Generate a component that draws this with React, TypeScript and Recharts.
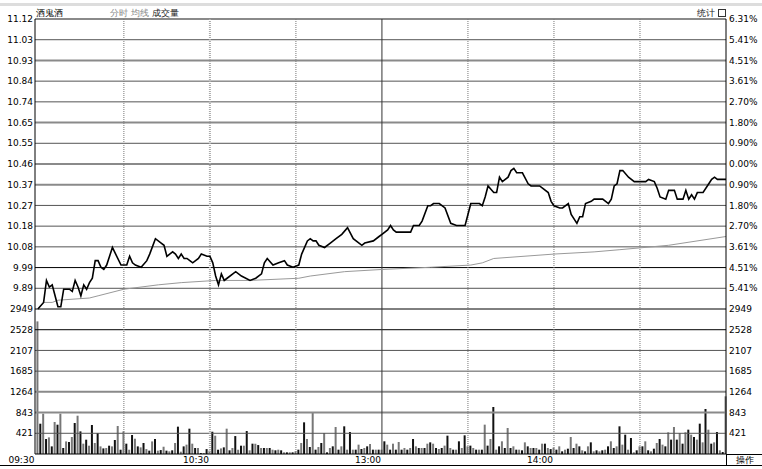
import { ComposedChart, Bar, Line, XAxis, YAxis, ReferenceLine, Cell } from 'recharts';

const PREV_CLOSE = 10.46;
const PRICE_LABELS = ['11.12', '11.03', '10.93', '10.84', '10.74', '10.65', '10.55', '10.46', '10.37', '10.27', '10.18', '10.08', '9.99', '9.89'];
const PCT_LABELS = ['6.31%', '5.41%', '4.51%', '3.61%', '2.70%', '1.80%', '0.90%', '0.00%', '0.90%', '1.80%', '2.70%', '3.61%', '4.51%', '5.41%'];
const VOL_LABELS = ['2949', '2528', '2107', '1685', '1264', '843', '421'];
const TIME_TICKS = [0, 60, 120, 180];
const TIME_LABELS = ['09:30', '10:30', '13:00', '14:00'];
const GUIDE_MINUTES = [30, 60, 90, 120, 150, 180, 210];

// minute index (0 = 09:30, 240 = 15:00) and price
const PRICE_MIN = [
  0, 2, 3, 4, 5, 6, 7, 8, 9, 11, 12, 13, 14, 15, 16, 17, 18, 19, 20, 21, 22, 23, 24, 26, 29, 31, 32, 33, 34, 36,
  38, 39, 41, 43, 44, 45, 47, 48, 49, 50, 51, 52, 53, 54, 56, 57, 59, 60, 61, 62, 63, 64, 65, 66, 68, 69, 71, 74, 76, 78,
  79, 80, 82, 84, 86, 87, 89, 91, 92, 94, 95, 96, 97, 98, 100, 102, 104, 106, 108, 110, 113, 114, 117, 119, 120, 122, 123, 124, 125, 126,
  128, 130, 131, 133, 134, 136, 137, 138, 140, 142, 144, 146, 148, 149, 150, 151, 154, 155, 156, 157, 159, 160, 161, 162, 164, 165, 166, 167, 169, 171,
  172, 174, 175, 176, 178, 179, 180, 182, 183, 185, 186, 188, 189, 190, 191, 193, 194, 196, 197, 199, 200, 201, 202, 203, 204, 206, 208, 210, 212, 213,
  215, 216, 217, 219, 220, 222, 223, 225, 226, 227, 228, 229, 230, 231, 232, 234, 235, 236, 237, 240,
];
const PRICE_VAL = [
  9.8, 9.83, 9.93, 9.9, 9.91, 9.86, 9.81, 9.81, 9.89, 9.89, 9.88, 9.93, 9.9, 9.86, 9.91, 9.89, 9.92, 9.94, 10.02, 10.02, 9.99, 9.98, 10.0, 10.08, 10.0, 10.0, 10.04, 10.01, 10.0, 9.99,
  10.02, 10.05, 10.12, 10.1, 10.09, 10.04, 10.06, 10.05, 10.03, 10.05, 10.03, 10.03, 10.02, 10.01, 10.03, 10.05, 10.04, 10.04, 10.01, 9.95, 9.91, 9.96, 9.93, 9.94, 9.96, 9.97, 9.95, 9.93, 9.94, 9.96,
  10.01, 10.03, 10.0, 10.01, 10.02, 10.0, 9.99, 10.0, 10.05, 10.11, 10.12, 10.11, 10.11, 10.09, 10.08, 10.1, 10.12, 10.14, 10.17, 10.12, 10.09, 10.1, 10.11, 10.13, 10.14, 10.16, 10.18, 10.16, 10.15, 10.15,
  10.15, 10.15, 10.18, 10.18, 10.2, 10.27, 10.27, 10.28, 10.28, 10.26, 10.19, 10.18, 10.18, 10.18, 10.23, 10.28, 10.28, 10.27, 10.31, 10.36, 10.33, 10.33, 10.4, 10.38, 10.4, 10.43, 10.44, 10.42, 10.42, 10.37,
  10.36, 10.36, 10.36, 10.35, 10.33, 10.29, 10.27, 10.26, 10.26, 10.28, 10.23, 10.19, 10.22, 10.22, 10.28, 10.29, 10.3, 10.3, 10.3, 10.28, 10.3, 10.36, 10.37, 10.43, 10.43, 10.4, 10.38, 10.38, 10.38, 10.39,
  10.38, 10.35, 10.31, 10.3, 10.34, 10.34, 10.3, 10.3, 10.34, 10.3, 10.32, 10.3, 10.33, 10.33, 10.33, 10.37, 10.39, 10.4, 10.39, 10.39,
];

const AVG_MIN = [0, 2, 5, 7, 18, 21, 30, 42, 50, 62, 74, 91, 95, 107, 120, 137, 151, 155, 159, 180, 194, 203, 220, 240];
const AVG_VAL = [9.8, 9.83, 9.83, 9.84, 9.85, 9.86, 9.89, 9.91, 9.92, 9.93, 9.93, 9.94, 9.95, 9.97, 9.98, 9.99, 10.0, 10.01, 10.03, 10.05, 10.06, 10.07, 10.09, 10.13];

// one bar per minute, 0..240
const VOLUME = [
  2697, 616, 820, 305, 338, 155, 651, 596, 820, 122, 256, 244, 346, 630, 779, 460, 210, 291, 169, 590,
  224, 427, 155, 114, 122, 169, 155, 285, 570, 87, 460, 210, 87, 386, 311, 155, 135, 224, 100, 68,
  256, 305, 68, 80, 148, 68, 54, 75, 224, 556, 47, 155, 190, 515, 210, 122, 122, 20, 20, 100,
  68, 453, 372, 87, 114, 135, 515, 75, 122, 365, 87, 169, 169, 467, 75, 210, 210, 182, 122, 122,
  122, 122, 88, 75, 88, 75, 34, 34, 34, 34, 54, 88, 224, 644, 305, 142, 834, 88, 142, 224,
  427, 34, 122, 156, 549, 88, 156, 563, 88, 447, 88, 88, 190, 102, 122, 156, 203, 88, 88, 88,
  88, 258, 190, 88, 210, 88, 244, 88, 122, 88, 122, 305, 156, 122, 122, 122, 210, 237, 210, 122,
  102, 122, 170, 373, 122, 88, 88, 258, 122, 380, 156, 170, 122, 88, 88, 88, 597, 170, 305, 956,
  88, 156, 258, 122, 529, 122, 156, 88, 88, 75, 237, 156, 122, 122, 122, 88, 210, 210, 122, 100,
  130, 88, 156, 54, 88, 108, 346, 122, 210, 156, 75, 54, 156, 237, 54, 75, 54, 75, 88, 156,
  258, 122, 156, 563, 190, 393, 88, 325, 34, 75, 156, 156, 258, 75, 54, 108, 224, 305, 190, 156,
  441, 292, 549, 292, 427, 210, 441, 495, 393, 346, 292, 617, 237, 915, 495, 210, 237, 447, 75, 40,
  1173,
];

const FONT = "'DejaVu Sans', sans-serif";
const ROWS = PRICE_LABELS.length + VOL_LABELS.length; // 21 grid rows
const PRICE_TOP = Number(PRICE_LABELS[0]);
const PRICE_LOW = 2 * PREV_CLOSE - PRICE_TOP;
const PRICE_STEP = (PRICE_TOP - PRICE_LOW) / PRICE_LABELS.length;
const PRICE_BOTTOM = PRICE_LOW - VOL_LABELS.length * PRICE_STEP;
const PRICE_DOMAIN: [number, number] = [PRICE_BOTTOM, PRICE_TOP];
const VOL_DOMAIN: [number, number] = [0, (Number(VOL_LABELS[0]) * ROWS) / VOL_LABELS.length];

const THICK_ROWS = new Set([21, 19, 16, 14, 13, 3, 2]);
const DARK_ROWS = new Set([9, 7, 6]);

const slot = (m: number) => m + 1;
const volumeRows = VOLUME.map((v, m) => ({ x: slot(m), vol: v }));
const priceRows = PRICE_MIN.map((m, i) => ({ x: slot(m), p: PRICE_VAL[i] }));
const avgRows = AVG_MIN.map((m, i) => ({ x: slot(m), p: AVG_VAL[i] }));
const gridRows = Array.from({ length: ROWS }, (_, i) => i + 1);
// grid rows expressed on the price scale
const rowPrice = (r: number) => PRICE_BOTTOM + r * PRICE_STEP;
const rowTicks = gridRows.map(rowPrice);
const rowOf = (v: number) => Math.round((v - PRICE_BOTTOM) / PRICE_STEP);

const leftLabel = (v: number) => {
  const r = rowOf(v);
  return r > VOL_LABELS.length ? PRICE_LABELS[ROWS - r] : VOL_LABELS[VOL_LABELS.length - r];
};
const rightLabel = (v: number) => {
  const r = rowOf(v);
  return r > VOL_LABELS.length ? PCT_LABELS[ROWS - r] : VOL_LABELS[VOL_LABELS.length - r];
};

const TimeTick = (props: any) => {
  const { x, y, payload } = props;
  const i = TIME_TICKS.map(slot).indexOf(payload.value);
  return (
    <text x={i === 0 ? x - 3.5 : x - 1} y={y + 9} textAnchor="end" fontSize={9} fontFamily={FONT} fill="#000">
      {TIME_LABELS[i]}
    </text>
  );
};

const tickStyle = { fontSize: 9, fontFamily: FONT, fill: '#000' };

export default function App() {
  return (
    <div style={{ position: 'fixed', left: 0, top: 0, width: 762, height: 469, background: '#fff', fontFamily: FONT }}>
      <div style={{ position: 'absolute', left: 0, top: 3, width: 762, height: 3, background: '#ddd' }} />
      <div style={{ position: 'absolute', left: 36, top: 7, fontSize: 9, color: '#000' }}>酒鬼酒</div>
      <div style={{ position: 'absolute', left: 110, top: 7, fontSize: 9, color: '#888' }}>
        分时 均线 <span style={{ color: '#222' }}>成交量</span>
      </div>
      <div style={{ position: 'absolute', left: 697, top: 7, fontSize: 9, color: '#222' }}>统计</div>
      <div style={{ position: 'absolute', left: 718, top: 9, width: 6, height: 6, border: '1px solid #333' }} />
      <ComposedChart
        width={762}
        height={469}
        data={volumeRows}
        margin={{ top: 19, right: 0, bottom: 0, left: 0 }}
      >
        <XAxis
          dataKey="x"
          type="number"
          domain={[slot(-1), slot(240)]}
          ticks={TIME_TICKS.map(slot)}
          interval={0}
          height={15}
          tickLine={false}
          tickSize={0}
          tickMargin={0}
          axisLine={{ stroke: '#000' }}
          tick={<TimeTick />}
        />
        <YAxis
          yAxisId="price"
          orientation="left"
          type="number"
          domain={PRICE_DOMAIN}
          ticks={rowTicks}
          interval={0}
          width={35}
          tickLine={false}
          tickSize={0}
          tickMargin={2}
          axisLine={{ stroke: '#000' }}
          tick={tickStyle}
          tickFormatter={leftLabel}
        />
        <YAxis
          yAxisId="priceR"
          orientation="right"
          type="number"
          domain={PRICE_DOMAIN}
          ticks={rowTicks}
          interval={0}
          width={36}
          tickLine={false}
          tickSize={0}
          tickMargin={3}
          axisLine={{ stroke: '#000' }}
          tick={{ ...tickStyle, textAnchor: 'start' }}
          tickFormatter={rightLabel}
        />
        <YAxis yAxisId="vol" hide domain={VOL_DOMAIN} />
        {gridRows.map((r) => (
          <ReferenceLine
            key={`h${r}`}
            yAxisId="price"
            y={rowPrice(r)}
            stroke={THICK_ROWS.has(r) ? '#8a8a8a' : DARK_ROWS.has(r) ? '#000' : '#555'}
            strokeWidth={THICK_ROWS.has(r) ? 2 : 1}
          />
        ))}
        {GUIDE_MINUTES.map((m) => (
          <ReferenceLine
            key={`v${m}`}
            yAxisId="price"
            x={slot(m)}
            stroke={m === 120 ? '#333' : m === 60 ? '#aaa' : '#777'}
            strokeWidth={m === 60 ? 2 : 1}
            strokeDasharray={m === 120 ? undefined : '1 1'}
          />
        ))}
        <Bar yAxisId="vol" dataKey="vol" barSize={2} isAnimationActive={false}>
          {volumeRows.map((_, i) => (
            <Cell key={i} fill={i % 2 === 0 ? '#777' : '#111'} />
          ))}
        </Bar>
        <Line
          yAxisId="priceR"
          data={avgRows}
          dataKey="p"
          type="linear"
          stroke="#999"
          strokeWidth={1}
          dot={false}
          isAnimationActive={false}
        />
        <Line
          yAxisId="price"
          data={priceRows}
          dataKey="p"
          type="linear"
          stroke="#000"
          strokeWidth={1.6}
          dot={false}
          isAnimationActive={false}
        />
      </ComposedChart>
      <div style={{ position: 'absolute', left: 0, top: 465, width: 762, height: 1, background: '#000' }} />
      <div
        style={{
          position: 'absolute',
          left: 726,
          top: 454,
          width: 35,
          height: 11,
          borderLeft: '1px solid #000',
          borderTop: '1px solid #000',
          fontSize: 9,
          lineHeight: '11px',
          textAlign: 'center',
          color: '#000',
        }}
      >
        操作
      </div>
    </div>
  );
}
